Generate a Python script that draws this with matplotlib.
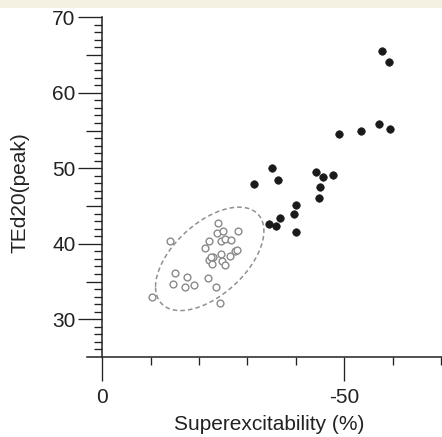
import numpy as np
import matplotlib
matplotlib.use('Agg')
import matplotlib.pyplot as plt
from matplotlib.patches import Rectangle

plt.rcParams['font.family'] = ['Liberation Sans', 'DejaVu Sans']

# patients (filled) - superexcitability (%) vs TEd20(peak)
pat_x = [-57.9, -59.2, -57.2, -59.5, -53.5, -48.9, -35.1, -31.3, -36.4, -44.2,
         -45.6, -47.7, -45.0, -44.7, -40.0, -39.6, -40.0, -36.7, -34.4, -35.9]
pat_y = [65.6, 64.1, 55.9, 55.2, 54.9, 54.5, 50.0, 47.9, 48.5, 49.5,
         48.9, 49.1, 47.5, 46.1, 45.1, 44.0, 41.6, 43.4, 42.6, 42.3]

# controls (open)
ctl_x = [-23.9, -23.7, -24.9, -28.0, -22.0, -24.6, -25.4, -26.7, -14.0, -21.3,
         -27.5, -27.9, -24.6, -26.4, -22.9, -22.0, -22.7, -24.7, -25.3, -22.5,
         -15.1, -17.5, -14.6, -17.1, -19.0, -21.8, -23.5, -10.3, -24.4]
ctl_y = [42.7, 41.4, 41.7, 41.7, 40.4, 40.4, 40.6, 40.5, 40.4, 39.5,
         39.1, 39.2, 38.6, 38.4, 38.3, 37.8, 37.3, 37.7, 37.2, 38.2,
         36.1, 35.6, 34.7, 34.3, 34.5, 35.4, 34.3, 32.9, 32.2]

# control range ellipse (centre and covariance-style shape in data units)
ell_center = [-22.2, 38.0]
ell_shape = [[125.4, -41.4], [-41.4, 46.9]]

fig = plt.figure(figsize=(4.42, 4.37), dpi=100)
fig.patches.append(Rectangle((0, 1 - 8 / 437), 1, 8 / 437, transform=fig.transFigure,
                             facecolor='#f4f0e2', edgecolor='none', zorder=0))

ax = fig.add_axes([87 / 442, 80 / 437, 355 / 442, 339.7 / 437])
ax.set_facecolor('none')

# ellipse
t = np.linspace(0, 2 * np.pi, 200)
L = np.linalg.cholesky(np.array(ell_shape))
pts = L @ np.vstack([np.cos(t), np.sin(t)])
ax.plot(pts[0] + ell_center[0], pts[1] + ell_center[1], color='#909090',
        lw=1.1, dashes=(3, 2), zorder=1)

ax.plot(ctl_x, ctl_y, 'o', ms=4.9, mfc='white', mec='#8a8a8a', mew=1.0, zorder=2)
ax.plot(pat_x, pat_y, 'o', ms=5.4, mfc='#1a1a1a', mec='#1a1a1a', mew=0.5, zorder=3)

ax.set_xlim(3.16, -70.2)
ax.set_ylim(25, 70)

dark = '#222222'
for s in ['top', 'right']:
    ax.spines[s].set_visible(False)
ax.spines['left'].set_position(('data', 0))
ax.spines['left'].set_bounds(25, 70)
for s in ['left', 'bottom']:
    ax.spines[s].set_color(dark)
    ax.spines[s].set_linewidth(1.1)
ax.yaxis.set_ticks_position('left')
ax.xaxis.set_ticks_position('bottom')

# y ticks: majors every 5 (labels on tens), minors every 1
yt = np.arange(30, 71, 5)
ax.set_yticks(yt)
ax.set_yticklabels([str(v) if v % 10 == 0 else '' for v in yt])
ax.set_yticks(np.arange(26, 70, 1), minor=True)
ax.tick_params(axis='y', which='major', direction='out', length=17.3, width=0.95,
               color=dark, labelsize=15, pad=2, labelcolor=dark)
ax.tick_params(axis='y', which='minor', direction='out', length=5.8, width=0.95, color=dark)
for v, tk in zip(yt, ax.yaxis.get_major_ticks()):
    if v % 10 != 0:
        tk.tick1line.set_markersize(11.5)

# x ticks
ax.set_xticks([0, -50])
ax.set_xticklabels(['0', '-50'])
ax.set_xticks([-10, -20, -30, -40, -60, -70], minor=True)
ax.tick_params(axis='x', which='major', direction='out', length=17.3, width=0.95,
               color=dark, labelsize=15, pad=5, labelcolor=dark)
ax.tick_params(axis='x', which='minor', direction='out', length=5.8, width=0.95, color=dark)

fig.text(269 / 442, 1 - 424 / 437, 'Superexcitability (%)', ha='center', va='center',
         fontsize=15, color=dark)
fig.text(20 / 442, 1 - 193 / 437, 'TEd20(peak)', rotation=90, ha='center', va='center',
         fontsize=15, color=dark)

fig.savefig('out.png', dpi=100)
